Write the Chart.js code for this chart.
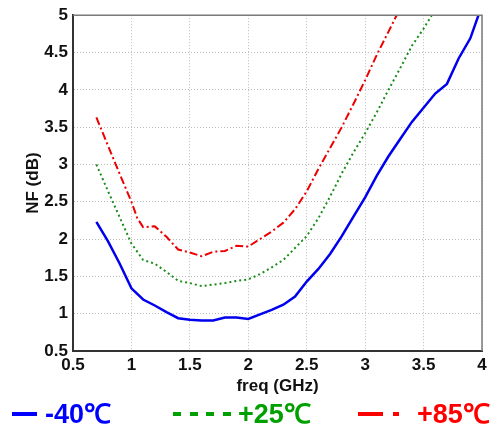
<!DOCTYPE html>
<html>
<head>
<meta charset="utf-8">
<script src="https://cdn.jsdelivr.net/npm/chart.js@4.4.1/dist/chart.umd.min.js"></script>
<style>
  html, body { margin: 0; padding: 0; background: #fff; }
  #wrap { position: relative; width: 498px; height: 426px; overflow: hidden; }
  #c { position: absolute; left: 0; top: 0; }
  .lg { position: absolute; top: 394px; line-height: 32px; font: bold 27px "Liberation Sans", Arial, sans-serif; white-space: nowrap; }
  .sw { position: absolute; top: 412px; height: 4px; }
</style>
</head>
<body>
<div id="wrap">
  <canvas id="c" width="498" height="426"></canvas>
  <div class="sw" style="left:12px;width:25px;background:#0000ff;"></div>
  <div class="lg" style="left:45px;color:#0000ff;">-40℃</div>
  <div class="sw" style="left:173px;width:58px;background:repeating-linear-gradient(to right,#00a000 0 8px,transparent 8px 16.7px);"></div>
  <div class="lg" style="left:238px;color:#00a000;">+25℃</div>
  <div class="sw" style="left:358px;width:25px;background:#ff0000;"></div>
  <div class="sw" style="left:393px;width:6px;background:#ff0000;"></div>
  <div class="lg" style="left:417px;color:#ff0000;">+85℃</div>
</div>
<script>
// Data
const seriesNames = ['-40℃', '+25℃', '+85℃'];
const freqM40 = [0.7,0.8,0.9,1.0,1.1,1.2,1.3,1.4,1.5,1.6,1.7,1.8,1.9,2.0,2.1,2.2,2.3,2.4,2.5,2.6,2.7,2.8,2.9,3.0,3.1,3.2,3.3,3.4,3.5,3.6,3.7,3.8,3.9,3.97];
const nfM40   = [2.23,1.97,1.67,1.34,1.19,1.11,1.02,0.94,0.92,0.91,0.91,0.95,0.95,0.93,0.99,1.05,1.12,1.23,1.43,1.60,1.80,2.04,2.30,2.56,2.85,3.11,3.34,3.57,3.76,3.95,4.08,4.42,4.69,5.0];
const freqP25 = [0.7,0.8,0.9,1.0,1.1,1.2,1.3,1.4,1.5,1.6,1.7,1.8,1.9,2.0,2.1,2.2,2.3,2.4,2.5,2.6,2.7,2.8,2.9,3.0,3.1,3.2,3.3,3.4,3.5,3.57];
const nfP25   = [3.0,2.64,2.29,1.94,1.72,1.67,1.56,1.44,1.41,1.37,1.39,1.41,1.44,1.46,1.53,1.62,1.72,1.88,2.04,2.28,2.57,2.88,3.16,3.42,3.70,4.0,4.29,4.59,4.82,5.0];
const freqP85 = [0.7,0.8,0.9,1.0,1.05,1.1,1.2,1.3,1.4,1.5,1.6,1.7,1.8,1.9,2.0,2.1,2.2,2.3,2.4,2.5,2.6,2.7,2.8,2.9,3.0,3.1,3.2,3.27];
const nfP85   = [3.63,3.25,2.87,2.50,2.28,2.16,2.17,2.03,1.86,1.82,1.77,1.83,1.84,1.91,1.90,2.00,2.10,2.22,2.40,2.64,2.94,3.22,3.50,3.81,4.13,4.47,4.78,5.0];
const xTicks = [0.5,1,1.5,2,2.5,3,3.5,4];
const yTicks = [0.5,1,1.5,2,2.5,3,3.5,4,4.5,5];

const pts = (xs, ys) => xs.map((x, i) => ({x: x, y: ys[i]}));
const FONT = '"Liberation Sans", Arial, sans-serif';

const framePlugin = {
  id: 'frame',
  afterDraw(chart) {
    const {ctx, chartArea: a} = chart;
    ctx.save();
    ctx.strokeStyle = '#7a7a7a';
    ctx.lineWidth = 1.5;
    ctx.beginPath();
    ctx.moveTo(a.left, a.top);
    ctx.lineTo(a.right, a.top);
    ctx.lineTo(a.right, a.bottom);
    ctx.stroke();
    ctx.restore();
  }
};

new Chart(document.getElementById('c'), {
  type: 'line',
  data: {
    datasets: [
      { label: seriesNames[0], data: pts(freqM40, nfM40), borderColor: '#0000ee', borderWidth: 2.5, pointRadius: 0, tension: 0, fill: false },
      { label: seriesNames[1], data: pts(freqP25, nfP25), borderColor: '#1a8c1a', borderWidth: 2, borderDash: [2, 3], pointRadius: 0, tension: 0, fill: false },
      { label: seriesNames[2], data: pts(freqP85, nfP85), borderColor: '#ee0000', borderWidth: 2, borderDash: [8, 3, 2, 3], pointRadius: 0, tension: 0, fill: false }
    ]
  },
  options: {
    responsive: false,
    animation: false,
    layout: { padding: { left: 0, right: 16, top: 15, bottom: 25 } },
    plugins: { legend: { display: false }, tooltip: { enabled: false } },
    scales: {
      x: {
        type: 'linear', min: 0.5, max: 4,
        afterBuildTicks: s => { s.ticks = xTicks.map(v => ({value: v})); },
        afterFit: s => { s.height = 50; },
        ticks: { color: '#111', padding: 4, callback: v => String(v), font: { family: FONT, size: 17, weight: 'bold' } },
        grid: { color: '#bdbdbd', lineWidth: 1, drawTicks: false },
        border: { color: '#333', width: 2, dash: [1, 2] },
        title: { display: true, text: 'freq (GHz)', color: '#111', padding: { top: 0, bottom: 4 }, font: { family: FONT, size: 17, weight: 'bold' } }
      },
      y: {
        type: 'linear', min: 0.5, max: 5,
        afterBuildTicks: s => { s.ticks = yTicks.map(v => ({value: v})); },
        afterFit: s => { s.width = 73; },
        ticks: { color: '#111', padding: 5, callback: v => String(v), font: { family: FONT, size: 17, weight: 'bold' } },
        grid: { color: '#bdbdbd', lineWidth: 1, drawTicks: false },
        border: { color: '#333', width: 2, dash: [1, 2] },
        title: { display: true, text: 'NF (dB)', color: '#111', padding: { top: 23, bottom: 0 }, font: { family: FONT, size: 17, weight: 'bold' } }
      }
    }
  },
  plugins: [framePlugin]
});
</script>
</body>
</html>
